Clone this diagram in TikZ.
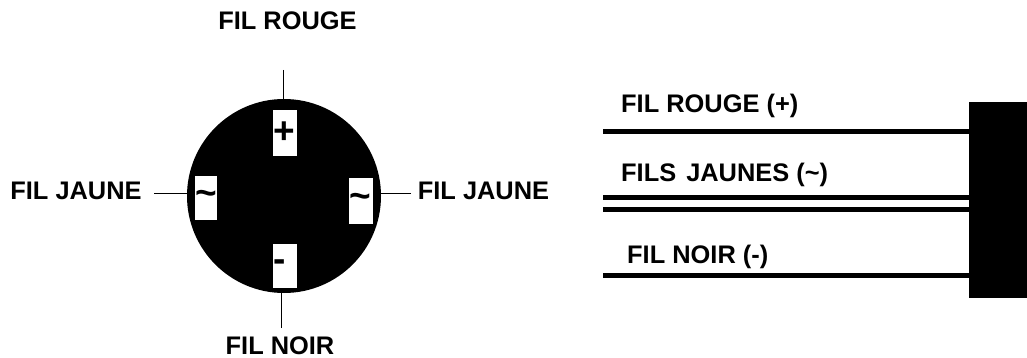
\documentclass[tikz,border=0pt]{standalone}
\usepackage{fontspec}
\setmainfont{Liberation Sans}
\usetikzlibrary{positioning}

\begin{document}
\begin{tikzpicture}[x=1pt,y=-1pt,
  disc node/.style={circle,fill=black,inner sep=0pt,minimum size=194pt},
  bar node/.style={rectangle,fill=black,inner sep=0pt,minimum width=58pt,minimum height=196pt},
  pin node/.style={rectangle,fill=white,inner sep=0pt,minimum width=24pt,minimum height=46pt,
    font=\fontsize{37}{37}\bfseries},
  label node/.style={inner sep=0pt,text height=17pt,text depth=0pt,font=\fontsize{25.4}{27}\bfseries},
  thin wire/.style={line width=1pt},
  thick wire/.style={line width=5.5pt}]

  \useasboundingbox (0,0) rectangle (1027,358);

  \node[disc node] (disc) at (284,196) {};
  \node[bar node] (bar) at (998,199.7) {};

  % free ends of the wires
  \coordinate (top) at (283.5,70);
  \coordinate (left) at (154,193.7);
  \coordinate (right) at (411,193.7);
  \coordinate (bottom) at (281.3,328);
  \coordinate (red) at (603,131.7);
  \coordinate (yellow1) at (603,197.7);
  \coordinate (yellow2) at (603,209.7);
  \coordinate (black) at (603,275.3);

  \draw[thin wire] (top) -- (disc -| top);
  \draw[thin wire] (left) -- (left -| disc);
  \draw[thin wire] (right) -- (right -| disc);
  \draw[thin wire] (bottom) -- (disc -| bottom);

  \draw[thick wire] (red) -- (red -| bar);
  \draw[thick wire] (yellow1) -- (yellow1 -| bar);
  \draw[thick wire] (yellow2) -- (yellow2 -| bar);
  \draw[thick wire] (black) -- (black -| bar);

  \node[pin node] (plus) at (285,133) {\raisebox{-2pt}{+}\hspace{2pt}\null};
  \node[pin node,minimum width=22pt,minimum height=44pt] (tildeL) at (206,198) {\raisebox{-5pt}{\textasciitilde}};
  \node[pin node,minimum height=46pt] (tildeR) at (361,201) {\raisebox{-5pt}{\textasciitilde}\hspace{2pt}\null};
  \node[pin node,minimum height=44pt] (minus) at (285,266) {\raisebox{0pt}{-}\hspace{11pt}\null};

  \node[label node] (labelT) at (287.5,21) {FIL ROUGE};
  \node[label node] (labelL) at (76,191) {FIL JAUNE};
  \node[label node] (labelR) at (483.5,191) {FIL JAUNE};
  \node[label node] (labelB) at (280,345.5) {FIL NOIR};

  \node[label node,anchor=west] (labelA) at (621,104.5) {FIL ROUGE (+)};
  \node[label node,anchor=west] (labelC) at (621,173) {FILS\hspace{3pt} JAUNES (\textasciitilde)};
  \node[label node,anchor=west] (labelD) at (627,254.5) {FIL NOIR (-)};

\end{tikzpicture}
\end{document}
